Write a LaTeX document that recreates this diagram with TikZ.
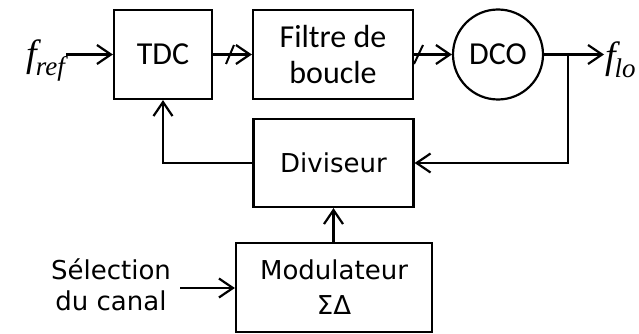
\documentclass[tikz,border=0pt]{standalone}
\usepackage{fontspec}
\newfontfamily\fcarl{Carlito}
\newfontfamily\fdejavu{DejaVu Sans}
\newfontfamily\fserif{Liberation Serif}
\usetikzlibrary{arrows.meta}
\newcommand{\bigf}[1]{{\fserif\itshape\fontsize{38}{40}\selectfont f\kern-1pt\raisebox{-9pt}{\fontsize{27}{30}\selectfont #1}}}
\begin{document}
\begin{tikzpicture}[x=1pt,y=-1pt,
  line width=2.2pt,
  blk/.style={draw,line width=2.2pt,minimum width=#1,minimum height=89pt,inner sep=0pt,align=center},
  cfont/.style={font=\fcarl\fontsize{32}{36}\selectfont},
  dfont/.style={font=\fdejavu\fontsize{26}{35}\selectfont},
  conn/.style={-{Straight Barb[length=14pt,width=19pt,line width=2.2pt]}},
  slash/.style={line width=2pt}]
\useasboundingbox (0,0) rectangle (639,334);
\node[blk=98pt,cfont] (tdc) at (163,54.5) {TDC};
\node[blk=160pt,cfont] (filt) at (333,54.5) {Filtre de\\boucle};
\node[draw,circle,minimum size=90pt,inner sep=0pt,cfont] (dco) at (498,54.5) {DCO};
\node[blk=160pt,minimum height=88pt,dfont] (div) at (333.5,163) {Diviseur};
\node[blk=196pt,dfont] (mod) at (334,287.5) {Modulateur\\ΣΔ};
\node[inner sep=0pt,anchor=east] (fref) at (66,60) {\bigf{ref}};
\node[inner sep=0pt,anchor=west] (flo) at (604,60) {\bigf{lo}};
\node[font=\fdejavu\fontsize{26}{31}\selectfont,align=center,inner sep=0pt,anchor=east] (sel) at (172,285) {Sélection\\du canal};
\coordinate (br) at (568,54.5);
\coordinate (fin) at (flo.west |- br);
\coordinate (fst) at (fref.east |- tdc.west);
\coordinate (selo) at (180,288);
\draw[conn] (fst) -- (tdc.west);
\draw[conn] (tdc.east) -- (filt.west);
\draw[conn] (filt.east) -- (dco.west);
\draw[conn] (dco.east) -- (fin);
\draw[conn] (br) |- (div.east);
\draw[conn] (div.west) -| (tdc.south);
\draw[conn] (mod.north -| div.south) -- (div.south);
\draw[conn] (selo) -- (selo -| mod.west);
\draw[slash] (226,64) -- (234,45);
\draw[slash] (414,64) -- (423,45);
\end{tikzpicture}
\end{document}
